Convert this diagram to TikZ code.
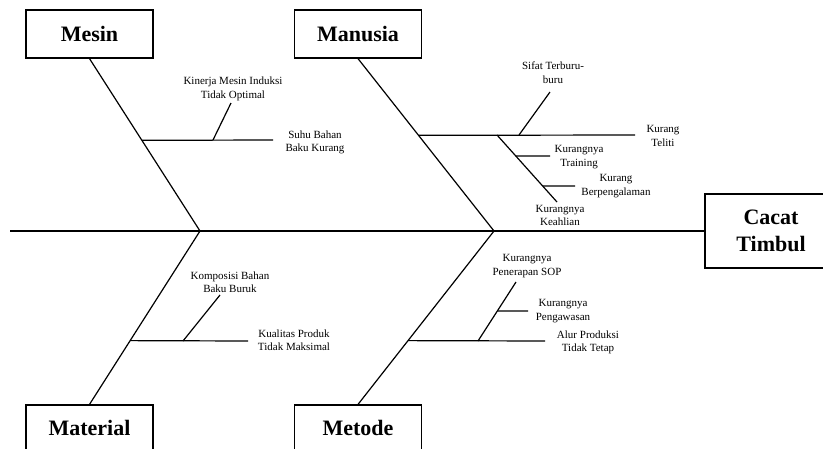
\documentclass[tikz,border=0pt]{standalone}
\usepackage{fontspec}
\setmainfont{Liberation Serif}
\usetikzlibrary{calc}

\tikzset{
  bone/.style={line width=1.2pt, black},
  catbox/.style={draw, line width=1.2pt, minimum width=127pt, minimum height=48pt,
                 inner sep=0pt, font=\fontsize{22}{26}\selectfont\bfseries},
  cause/.style={align=center, inner sep=0pt, font=\fontsize{11}{13.5}\selectfont}
}

\begin{document}
\begin{tikzpicture}[x=1pt, y=-1pt]
  \useasboundingbox (0,0) rectangle (823,448);
  \clip (0,0) rectangle (823,448);

  % category boxes
  \node[catbox] (mesin)    at (89.5,34)  {Mesin};
  \node[catbox] (manusia)  at (358,34)   {Manusia};
  \node[catbox, minimum height=46pt] (material) at (89.5,428) {Material};
  \node[catbox, minimum height=46pt] (metode)   at (358,428)  {Metode};
  \node[catbox, minimum width=132pt, minimum height=74pt, align=center,
        font=\fontsize{22}{27}\selectfont\bfseries] (head) at (771,231) {Cacat\\Timbul};
  \coordinate (headtext) at (768,231);

  % spine and joints
  \coordinate (tail) at (10,231);
  \coordinate (j1) at (200,231);
  \coordinate (j2) at (494,231);
  \draw[bone] (tail) -- (head.west |- tail);

  % main bones
  \draw[bone] (mesin.south) -- (j1) -- (material.north);
  \draw[bone] (manusia.south) -- (j2) -- (metode.north);

  % Mesin causes
  \coordinate (m0) at ($(mesin.south)!82/173!(j1)$);
  \coordinate (m1) at (273,140);
  \coordinate (m2) at (213,140);
  \coordinate (m3) at (231,103);
  \draw[bone] (m0) -- (m1);
  \draw[bone] (m2) -- (m3);
  \node[cause] (kinerja) at (233,89) {Kinerja Mesin Induksi\\Tidak Optimal};
  \node[cause] (suhu) at (315,142.5) {Suhu Bahan\\Baku Kurang};

  % Manusia causes
  \coordinate (h0) at ($(manusia.south)!77/173!(j2)$);
  \coordinate (h1) at (635,135);
  \coordinate (h2) at (519,135);
  \coordinate (h3) at (550,92);
  \coordinate (h4) at (497,135);
  \coordinate (h5) at (557,202);
  \coordinate (h6) at ($(h4)!21/67!(h5)$);
  \coordinate (h7) at (550,156);
  \coordinate (h8) at ($(h4)!51/67!(h5)$);
  \coordinate (h9) at (575,186);
  \draw[bone] (h0) -- (h1);
  \draw[bone] (h2) -- (h3);
  \draw[bone] (h4) -- (h5);
  \draw[bone] (h6) -- (h7);
  \draw[bone] (h8) -- (h9);
  \node[cause] (sifat) at (553,72.5) {Sifat Terburu-\\buru};
  \node[cause] (teliti) at (663,136) {Kurang\\Teliti};
  \node[cause] (training) at (579,157) {Kurangnya\\Training};
  \node[cause] (pengalaman) at (616,186) {Kurang\\Berpengalaman};
  \node[cause] (keahlian) at (560,215.5) {Kurangnya\\Keahlian};

  % Material causes
  \coordinate (a0) at ($(j1)!110/174!(material.north)$);
  \coordinate (a1) at (248,341);
  \coordinate (a2) at (183,341);
  \coordinate (a3) at (220,295);
  \draw[bone] (a0) -- (a1);
  \draw[bone] (a2) -- (a3);
  \node[cause] (komposisi) at (230,282) {Komposisi Bahan\\Baku Buruk};
  \node[cause] (kualitas) at (294,340) {Kualitas Produk\\Tidak Maksimal};

  % Metode causes
  \coordinate (t0) at ($(j2)!110/174!(metode.north)$);
  \coordinate (t1) at (545,341);
  \coordinate (t2) at (478,341);
  \coordinate (t3) at (516,282);
  \coordinate (t4) at ($(t2)!30/59!(t3)$);
  \coordinate (t5) at (528,311);
  \draw[bone] (t0) -- (t1);
  \draw[bone] (t2) -- (t3);
  \draw[bone] (t4) -- (t5);
  \node[cause] (sop) at (527,266) {Kurangnya\\Penerapan SOP};
  \node[cause] (pengawasan) at (563,311) {Kurangnya\\Pengawasan};
  \node[cause] (alur) at (588,342.5) {Alur Produksi\\Tidak Tetap};
\end{tikzpicture}
\end{document}
